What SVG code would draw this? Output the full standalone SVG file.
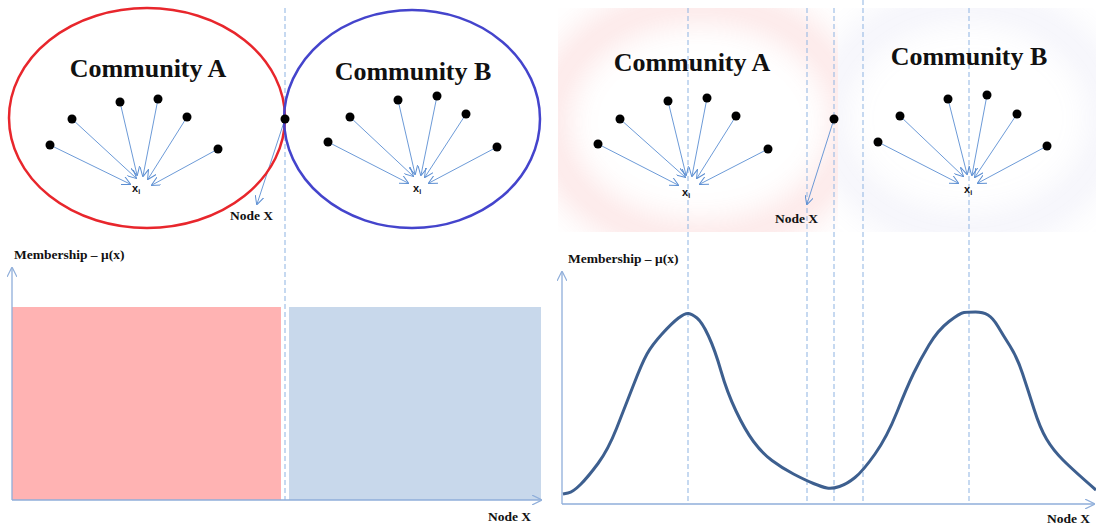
<svg xmlns="http://www.w3.org/2000/svg" width="1096" height="528" viewBox="0 0 1096 528">
<style>
.title{font-family:"Liberation Serif",serif;font-weight:bold;font-size:26px;fill:#111}
.lbl{font-family:"Liberation Serif",serif;font-weight:bold;font-size:13.5px;fill:#111}
.xi{font-family:"Liberation Sans",sans-serif;font-weight:bold;font-size:11px;fill:#111}
.dot{fill:#000}
.arr{stroke:#5B8ED2;stroke-width:0.9;fill:none;marker-end:url(#ah)}
.dash{stroke:#8DB3E2;stroke-width:1;stroke-dasharray:5 3;fill:none}
.axis{stroke:#8FAEDA;stroke-width:1.3;fill:none;marker-end:url(#axh)}
</style>
<defs>
<marker id="ah" viewBox="0 0 10 10" refX="9" refY="5" markerWidth="9" markerHeight="9" markerUnits="userSpaceOnUse" orient="auto">
<path d="M0,0 L10,5 L0,10" fill="none" stroke="#5B8ED2" stroke-width="1.1"/>
</marker>
<marker id="axh" viewBox="0 0 10 10" refX="9" refY="5" markerWidth="10" markerHeight="10" markerUnits="userSpaceOnUse" orient="auto">
<path d="M0,0 L10,5 L0,10" fill="none" stroke="#8FAEDA" stroke-width="1.2"/>
</marker>
<filter id="blur" x="-30%" y="-30%" width="160%" height="160%"><feGaussianBlur stdDeviation="16"/></filter>
<clipPath id="clipA"><rect x="558" y="8" width="280" height="224"/></clipPath>
<clipPath id="clipB"><rect x="838" y="8" width="258" height="224"/></clipPath>
</defs>
<rect width="1096" height="528" fill="#fff"/>

<g id="right-background">
<g clip-path="url(#clipA)">
<ellipse cx="700" cy="122" rx="150" ry="118" fill="none" stroke="#F07070" stroke-width="30" opacity="0.2" filter="url(#blur)"/>
</g>
<g clip-path="url(#clipB)">
<ellipse cx="968" cy="118" rx="140" ry="114" fill="none" stroke="#A8A8DC" stroke-width="30" opacity="0.14" filter="url(#blur)"/>
</g>
</g>

<g id="left-bars">
<rect x="12" y="307" width="269" height="193" fill="#FFB3B3"/>
<rect x="289" y="307" width="252" height="193" fill="#C8D8EB"/>
</g>

<g id="guides">
<line class="dash" x1="285" y1="8" x2="285" y2="500"/>
<line class="dash" x1="688" y1="8" x2="688" y2="504"/>
<line class="dash" x1="807" y1="8" x2="807" y2="504"/>
<line class="dash" x1="834" y1="8" x2="834" y2="504"/>
<line class="dash" x1="863" y1="0" x2="863" y2="504"/>
<line class="dash" x1="969" y1="8" x2="969" y2="504"/>
</g>

<g id="connectors">
<line class="arr" x1="50" y1="145" x2="130" y2="184"/>
<line class="arr" x1="72" y1="119" x2="136" y2="178"/>
<line class="arr" x1="120" y1="102" x2="137" y2="175"/>
<line class="arr" x1="158" y1="99" x2="143" y2="176"/>
<line class="arr" x1="187" y1="117" x2="148" y2="179"/>
<line class="arr" x1="218" y1="149" x2="152" y2="185"/>
<line class="arr" x1="328" y1="142" x2="408" y2="183"/>
<line class="arr" x1="350" y1="117" x2="413" y2="176"/>
<line class="arr" x1="398" y1="100" x2="415" y2="174"/>
<line class="arr" x1="437" y1="96" x2="421" y2="175"/>
<line class="arr" x1="466" y1="114" x2="425" y2="177"/>
<line class="arr" x1="497" y1="147" x2="429" y2="183"/>
<line class="arr" x1="285" y1="119" x2="257" y2="204"/>
<line class="arr" x1="598" y1="144" x2="678" y2="185"/>
<line class="arr" x1="620" y1="119" x2="685" y2="177"/>
<line class="arr" x1="668" y1="101" x2="686" y2="175"/>
<line class="arr" x1="707" y1="98" x2="692" y2="176"/>
<line class="arr" x1="736" y1="116" x2="697" y2="178"/>
<line class="arr" x1="768" y1="149" x2="700" y2="184"/>
<line class="arr" x1="878" y1="142" x2="958" y2="183"/>
<line class="arr" x1="900" y1="116" x2="963" y2="176"/>
<line class="arr" x1="948" y1="99" x2="967" y2="174"/>
<line class="arr" x1="987" y1="95" x2="972" y2="175"/>
<line class="arr" x1="1017" y1="114" x2="975" y2="177"/>
<line class="arr" x1="1047" y1="146" x2="978" y2="183"/>
<line class="arr" x1="834" y1="119" x2="807" y2="204"/>
</g>

<g id="community-A-left">
<ellipse cx="147" cy="118" rx="138" ry="110" fill="none" stroke="#E8262C" stroke-width="2.5"/>
<text class="title" x="148" y="77" text-anchor="middle">Community A</text>
<circle class="dot" cx="50" cy="145" r="4.5"/>
<circle class="dot" cx="72" cy="119" r="4.5"/>
<circle class="dot" cx="120" cy="102" r="4.5"/>
<circle class="dot" cx="158" cy="99" r="4.5"/>
<circle class="dot" cx="187" cy="117" r="4.5"/>
<circle class="dot" cx="218" cy="149" r="4.5"/>
<text class="xi" x="132" y="192">x<tspan font-size="7" dy="2">i</tspan></text>
</g>

<g id="community-B-left">
<ellipse cx="412" cy="119" rx="128" ry="109" fill="none" stroke="#4444CC" stroke-width="2.5"/>
<text class="title" x="413" y="80" text-anchor="middle">Community B</text>
<circle class="dot" cx="328" cy="142" r="4.5"/>
<circle class="dot" cx="350" cy="117" r="4.5"/>
<circle class="dot" cx="398" cy="100" r="4.5"/>
<circle class="dot" cx="437" cy="96" r="4.5"/>
<circle class="dot" cx="466" cy="114" r="4.5"/>
<circle class="dot" cx="497" cy="147" r="4.5"/>
<text class="xi" x="413" y="192">x<tspan font-size="7" dy="2">i</tspan></text>
</g>

<g id="node-X-left">
<circle class="dot" cx="285" cy="119" r="4.5"/>
<text class="lbl" x="230" y="220">Node X</text>
</g>

<g id="community-A-right">
<text class="title" x="692" y="71" text-anchor="middle">Community A</text>
<circle class="dot" cx="598" cy="144" r="4.5"/>
<circle class="dot" cx="620" cy="119" r="4.5"/>
<circle class="dot" cx="668" cy="101" r="4.5"/>
<circle class="dot" cx="707" cy="98" r="4.5"/>
<circle class="dot" cx="736" cy="116" r="4.5"/>
<circle class="dot" cx="768" cy="149" r="4.5"/>
<text class="xi" x="682" y="196">x<tspan font-size="7" dy="2">i</tspan></text>
</g>

<g id="community-B-right">
<text class="title" x="969" y="65" text-anchor="middle">Community B</text>
<circle class="dot" cx="878" cy="142" r="4.5"/>
<circle class="dot" cx="900" cy="116" r="4.5"/>
<circle class="dot" cx="948" cy="99" r="4.5"/>
<circle class="dot" cx="987" cy="95" r="4.5"/>
<circle class="dot" cx="1017" cy="114" r="4.5"/>
<circle class="dot" cx="1047" cy="146" r="4.5"/>
<text class="xi" x="964" y="193">x<tspan font-size="7" dy="2">i</tspan></text>
</g>

<g id="node-X-right">
<circle class="dot" cx="834" cy="119" r="4.5"/>
<text class="lbl" x="775" y="223">Node X</text>
</g>

<g id="left-chart-axes">
<line class="axis" x1="12" y1="500" x2="12" y2="268"/>
<line class="axis" x1="12" y1="500" x2="541" y2="500"/>
<text class="lbl" x="14" y="259">Membership – μ(x)</text>
<text class="lbl" x="488" y="521">Node X</text>
</g>

<g id="right-chart">
<line class="axis" x1="562" y1="504" x2="562" y2="272"/>
<line class="axis" x1="562" y1="504" x2="1094" y2="504"/>
<text class="lbl" x="568" y="263">Membership – μ(x)</text>
<text class="lbl" x="1047" y="523">Node X</text>
<path d="M563,494 L568,493 Q573,492 580.5,484.5 Q588,477 598,463.5 Q608,450 616.5,428.5 Q625,407 633.5,385 Q642,363 647,354 Q652,345 662,334 Q672,323 678.5,318 Q685,313 688.5,313.5 Q692,314 697,318 Q702,322 708.5,336 Q715,350 721,371 Q727,392 736,411 Q745,430 753.5,441.5 Q762,453 772,460.5 Q782,468 793.5,474 Q805,480 813.5,483.5 Q822,487 827,488 Q832,489 839.5,486.5 Q847,484 855,477.5 Q863,471 875,454 Q887,437 897,412 Q907,387 913.5,373.5 Q920,360 929,345 Q938,330 949,321.5 Q960,313 964,312.5 Q968,312 975.5,312 Q983,312 988,315 Q993,318 998,326.5 Q1003,335 1010,346 Q1017,357 1022.5,373.5 Q1028,390 1034,409 Q1040,428 1046.5,439 Q1053,450 1063,460 Q1073,470 1096,490" fill="none" stroke="#3D5F8F" stroke-width="3" stroke-linejoin="round"/>
</g>
</svg>
